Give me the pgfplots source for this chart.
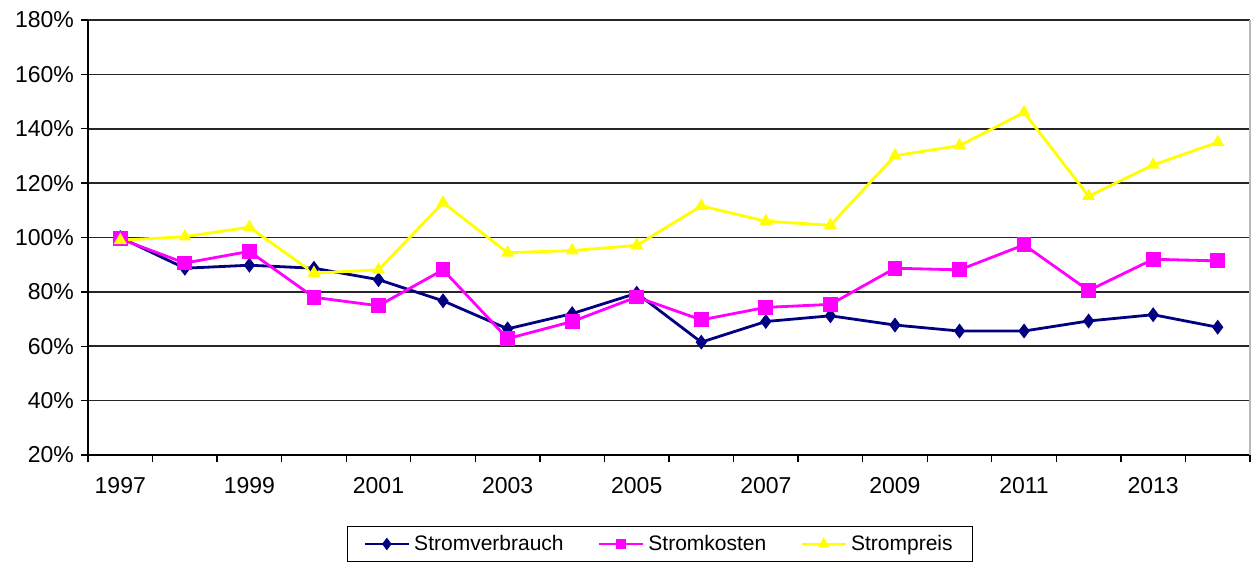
\documentclass[border=0pt]{standalone}
\usepackage{fontspec}
\setmainfont{Liberation Sans}
\usepackage{pgfplots}
\pgfplotsset{compat=1.18}
\definecolor{cnavy}{HTML}{000080}
\definecolor{cmag}{HTML}{FF00FF}
\definecolor{cyel}{HTML}{FFFF00}
\begin{document}
\begin{tikzpicture}
\useasboundingbox (-44pt,-54pt) rectangle (585pt,227.5pt);
\begin{axis}[
  scale only axis,
  width=581pt, height=217.5pt,
  at={(0,0)}, anchor=south west,
  xmin=-0.5, xmax=17.5,
  ymin=20, ymax=180,
  axis x line*=bottom, axis y line*=left,
  axis line style={black, line width=0.7pt},
  xtick={0,2,...,16},
  xticklabels={1997,1999,2001,2003,2005,2007,2009,2011,2013},
  minor xtick={-0.5,0.5,...,17.5},
  major x tick style={draw=none},
  minor tick length=3.5pt,
  major tick length=3.5pt,
  tick align=outside,
  tick style={black, line width=0.7pt},
  ytick={20,40,...,180},
  yticklabels={20\%,40\%,60\%,80\%,100\%,120\%,140\%,160\%,180\%},
  ymajorgrids,
  major grid style={black!85, line width=0.85pt},
  ticklabel style={font=\fontsize{11.5}{13}\selectfont, text=black},
  xticklabel style={yshift=-4pt},
  legend columns=3,
  legend style={at={(0.4923,-0.163)}, anchor=north, draw=black, line width=0.6pt,
    font=\fontsize{10.5}{12}\selectfont, inner xsep=8pt, inner ysep=2.2pt,
    /tikz/every even column/.append style={column sep=15pt}},
  legend image code/.code={\draw[mark repeat=2,mark phase=2,mark size=2pt] plot coordinates {(0pt,0pt) (11pt,0pt) (22pt,0pt)};},
  clip=false,
]
\draw[gray!55, line width=0.9pt] (rel axis cs:1,0) -- (rel axis cs:1,1);
\addplot[cnavy, line width=1.4pt, mark=diamond*, mark size=2.6pt, mark options={solid, fill=cnavy}]
coordinates {(0,100) (1,88.7) (2,89.8) (3,88.7) (4,84.5) (5,76.7) (6,66.4) (7,72) (8,79.5) (9,61.5) (10,69.1) (11,71.2) (12,67.8) (13,65.6) (14,65.6) (15,69.3) (16,71.6) (17,67)};
\addlegendentry{Stromverbrauch}
\addplot[cmag, line width=1.4pt, mark=square*, mark size=3pt, mark options={solid, fill=cmag}]
coordinates {(0,99.5) (1,90.6) (2,94.9) (3,78) (4,74.9) (5,88.1) (6,62.8) (7,69.1) (8,78.1) (9,69.7) (10,74.3) (11,75.4) (12,88.7) (13,88.1) (14,97.3) (15,80.5) (16,92) (17,91.4)};
\addlegendentry{Stromkosten}
\addplot[cyel, line width=1.4pt, mark=triangle*, mark size=2.4pt, mark options={solid, fill=cyel}]
coordinates {(0,99) (1,100.3) (2,103.8) (3,86.9) (4,88.1) (5,112.8) (6,94.4) (7,95.2) (8,97.1) (9,111.6) (10,106) (11,104.5) (12,130.1) (13,133.8) (14,146) (15,115.2) (16,126.7) (17,135)};
\addlegendentry{Strompreis}
\end{axis}
\end{tikzpicture}
\end{document}
